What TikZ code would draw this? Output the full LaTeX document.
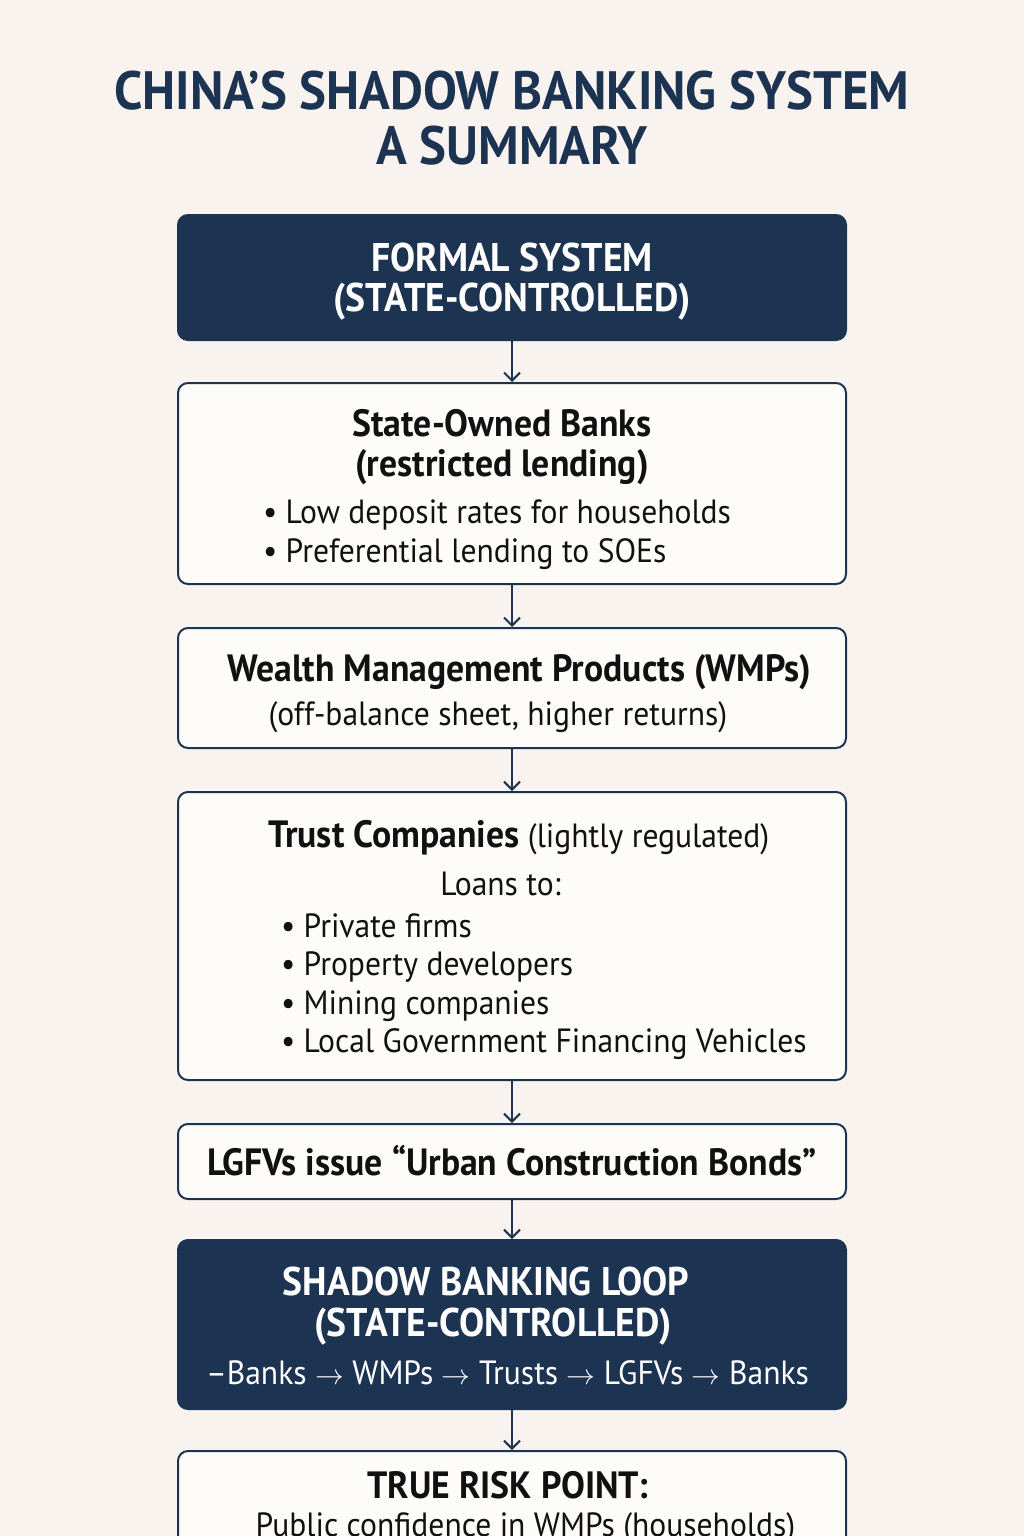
\documentclass[tikz,border=0pt]{standalone}
\usepackage{fontspec}
\setmainfont{PT Sans}[FakeStretch=0.94]
\usepackage{xcolor}
\usetikzlibrary{arrows.meta, positioning}
\definecolor{shnavy}{RGB}{29, 51, 82}
\definecolor{shpaper}{RGB}{248, 243, 238}
\definecolor{shcard}{RGB}{254, 252, 249}
\definecolor{shink}{RGB}{17, 17, 17}
\newcommand{\ra}{{\fontsize{15.5}{16}\selectfont$\rightarrow$}}
\newcommand{\hdfont}{\bfseries\fontsize{19}{20}\selectfont}
\newcommand{\bdfont}{\mdseries\fontsize{16.8}{19.5}\selectfont}
% invisible struts and offsets (top, bottom, horizontal)
\newcommand{\tops}[1]{\rule{0pt}{#1}}
\newcommand{\bots}[1]{\rule[-#1]{0pt}{#1}}
\newcommand{\gap}[1]{\rule{#1}{0pt}}
\tikzset{
  darkbox/.style={rectangle, rounded corners=5pt, draw=shnavy, fill=shnavy, line width=1pt,
                  text=white, minimum width=334pt, minimum height=#1, align=center, inner sep=0pt},
  darkbox/.default=60pt,
  cardbox/.style={rectangle, rounded corners=5pt, draw=shnavy, fill=shcard, line width=1pt,
                  text=shink, minimum width=334pt, minimum height=#1, align=center, inner sep=0pt},
  cardbox/.default=60pt,
  flow/.style={-{Straight Barb[length=4pt, width=8pt, line width=1pt]}, line width=1pt, color=shnavy},
  capsfont/.style={font=\bfseries\fontsize{20}{20}\selectfont},
  bodyfont/.style={font=\fontsize{16.8}{#1}\selectfont},
  bodyfont/.default=19.5,
}

\begin{document}
\begin{tikzpicture}[x=0.5pt, y=-0.5pt]
  \fill[shpaper] (0,0) rectangle (1024,1536);
  \useasboundingbox (0,0) rectangle (1024,1536);
  \clip (0,0) rectangle (1024,1536);

  % title
  \node[text=shnavy, align=center, font=\bfseries\fontsize{27}{27.5}\selectfont] (title) at (512,118)
       {CHINA'S SHADOW BANKING SYSTEM\\A SUMMARY};

  % formal system
  \node[darkbox=62.5pt, capsfont] (formal) at (512,277.5)
       {\tops{22pt}FORMAL SYSTEM\\(STATE-CONTROLLED)\bots{8.5pt}};

  % state-owned banks
  \node[cardbox=100.5pt, bodyfont] (banks) at (512,483.5)
       {\hdfont\tops{22pt}State-Owned Banks\gap{10pt}\\[0.5pt]
        \hdfont (restricted lending)\gap{10pt}\\[4pt]
        \bdfont\makebox[249pt][l]{• Low deposit rates for households}\\
        \bdfont\makebox[249pt][l]{• Preferential lending to SOEs}\bots{6.5pt}};

  % wealth management products
  \node[cardbox=60pt, bodyfont] (wmp) at (512,688)
       {\gap{7.5pt}\hdfont\tops{21pt}Wealth Management Products (WMPs)\\[2.5pt]
        \bdfont (off-balance sheet, higher returns)\gap{14pt}\bots{6pt}};

  % trust companies
  \node[cardbox=144pt, bodyfont=19.3] (trusts) at (512,936)
       {\gap{7pt}\tops{21pt}{\hdfont Trust Companies} \bdfont(lightly regulated)\\[4.7pt]
        \bdfont Loans to:\gap{11.5pt}\\[1.7pt]
        \bdfont\makebox[231pt][l]{• Private firms}\\
        \bdfont\makebox[231pt][l]{• Property developers}\\
        \bdfont\makebox[231pt][l]{• Mining companies}\\
        \bdfont\makebox[231pt][l]{• Local Government Financing Vehicles}\bots{7pt}};

  % LGFV bonds
  \node[cardbox=37.5pt, font=\hdfont] (lgfv) at (512,1161.5)
       {\tops{20pt}LGFVs issue “Urban Construction Bonds”\bots{6.5pt}};

  % shadow banking loop
  \node[darkbox=84.5pt, capsfont] (loop) at (512,1324.5)
       {\tops{21pt}SHADOW BANKING LOOP\gap{26pt}\\[0.5pt]
        (STATE-CONTROLLED)\gap{19pt}\\[4pt]
        \bdfont –Banks \ra{} WMPs \ra{} Trusts \ra{} LGFVs \ra{} Banks\gap{4.5pt}\bots{6pt}};

  % risk point
  \node[cardbox=53pt, bodyfont=19, anchor=north] (risk) at (512,1450)
       {\hdfont\tops{20pt}TRUE RISK POINT:\gap{4pt}\\
        \gap{13.5pt}\bdfont Public confidence in WMPs (households)\bots{7pt}};

  % connectors
  \draw[flow] (formal) -- (banks);
  \draw[flow] (banks) -- (wmp);
  \draw[flow] (wmp) -- (trusts);
  \draw[flow] (trusts) -- (lgfv);
  \draw[flow] (lgfv) -- (loop);
  \draw[flow] (loop) -- (risk);
\end{tikzpicture}
\end{document}
